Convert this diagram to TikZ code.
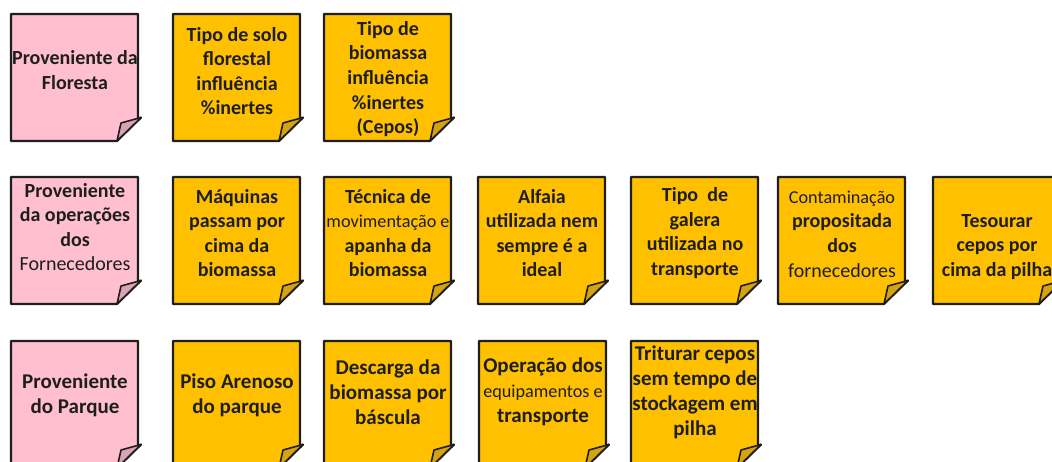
\documentclass[tikz,border=0pt]{standalone}
\usepackage{fontspec}
\setmainfont{Carlito}
\definecolor{pinkfill}{HTML}{FFBFCF}
\definecolor{pinkflap}{HTML}{D9A3B5}
\definecolor{goldfill}{HTML}{FFC000}
\definecolor{goldflap}{HTML}{D6A310}
\definecolor{inkc}{HTML}{1E1E1E}
\tikzset{
  pinknote/.style={fill=pinkfill, draw=inkc, line width=2.2pt, line join=round},
  pinknote flap/.style={fill=pinkflap, draw=inkc, line width=1.6pt, line join=round},
  goldnote/.style={fill=goldfill, draw=inkc, line width=2.2pt, line join=round},
  goldnote flap/.style={fill=goldflap, draw=inkc, line width=1.6pt, line join=round},
  notetext/.style={align=center, text=inkc, inner sep=0pt, font=\bfseries\fontsize{20}{24.6}\selectfont},
  notetextc/.style={align=center, text=inkc, inner sep=0pt, font=\bfseries\fontsize{21}{25}\selectfont}
}
% #1 name, #2 (L,T), #3 style, #4 text y (local), #5 text style, #6 text
\newcommand{\stickynote}[6]{%
  \begin{scope}[shift={#2}]
    \draw[#3] (0,0) -- (127,0) -- (127,105) -- (130,103.5) -- (106,127) -- (0,127) -- cycle;
    \draw[#3 flap] (130,103.5) -- (110,109) -- (106,127) -- cycle;
    \node[#5] (#1) at (64,#4) {#6};
  \end{scope}}
\newcommand{\sm}[1]{{\mdseries\fontsize{18.2}{24.6}\selectfont #1}}
\newcommand{\rg}[1]{{\mdseries #1}}
\begin{document}
\begin{tikzpicture}[x=1pt, y=-1pt]
\useasboundingbox (0,0) rectangle (1052,462);
\clip (0,0) rectangle (1052,462);
% Row 1
\stickynote{r1a}{(11,14)}{pinknote}{56}{notetext}{Proveniente da\\Floresta}
\stickynote{r1b}{(173,14)}{goldnote}{57}{notetext}{Tipo de solo\\florestal\\influência\\\%inertes}
\stickynote{r1c}{(324,14)}{goldnote}{65}{notetext}{Tipo de\\biomassa\\influência\\\%inertes\\(Cepos)}
% Row 2
\stickynote{r2a}{(11,177)}{pinknote}{50}{notetext}{Proveniente\\da operações\\dos\\\rg{Fornecedores}}
\stickynote{r2b}{(173,177)}{goldnote}{56}{notetext}{Máquinas\\passam por\\cima da\\biomassa}
\stickynote{r2c}{(324,177)}{goldnote}{56}{notetext}{Técnica de\\\sm{movimentação e}\\apanha da\\biomassa}
\stickynote{r2d}{(478,177)}{goldnote}{56}{notetext}{Alfaia\\utilizada nem\\sempre é a\\ideal}
\stickynote{r2e}{(631,177)}{goldnote}{56}{notetext}{Tipo\ \ de\\galera\\utilizada no\\transporte}
\stickynote{r2f}{(778,177)}{goldnote}{57}{notetext}{\sm{Contaminação}\\propositada\\dos\\\rg{fornecedores}}
\stickynote{r2g}{(933,177)}{goldnote}{70}{notetext}{Tesourar\\cepos por\\cima da pilha}
% Row 3
\stickynote{r3a}{(11,341)}{pinknote}{54}{notetextc}{Proveniente\\do Parque}
\stickynote{r3b}{(173,341)}{goldnote}{54}{notetextc}{Piso Arenoso\\do parque}
\stickynote{r3c}{(324,341)}{goldnote}{51}{notetextc}{Descarga da\\biomassa por\\báscula}
\stickynote{r3d}{(479,341)}{goldnote}{51}{notetextc}{Operação dos\\\sm{equipamentos e}\\transporte}
\stickynote{r3e}{(631,341)}{goldnote}{51}{notetextc}{Triturar cepos\\sem tempo de\\stockagem em\\pilha}
\end{tikzpicture}
\end{document}
